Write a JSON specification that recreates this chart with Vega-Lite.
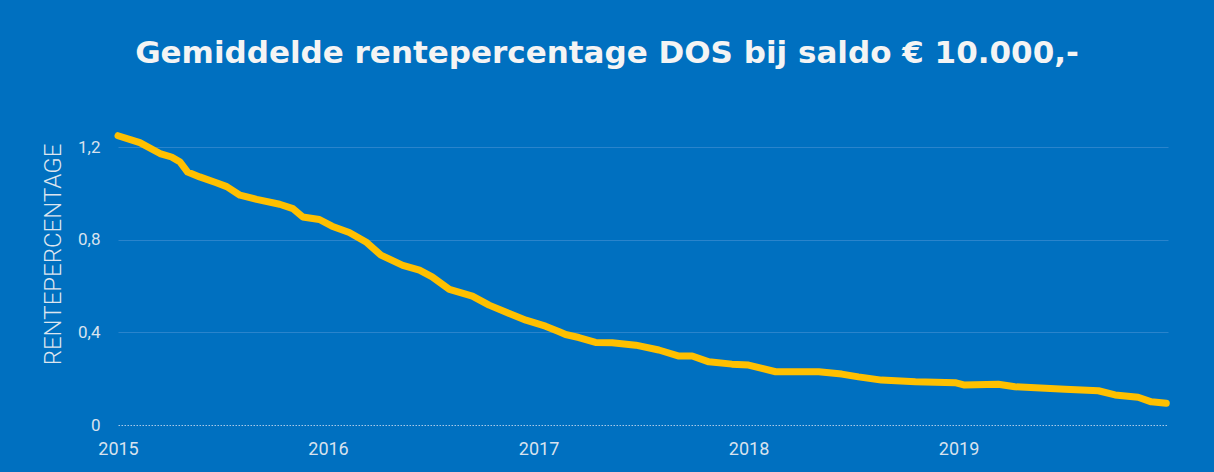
{
  "$schema": "https://vega.github.io/schema/vega-lite/v6.json",
  "width": 1050,
  "height": 324,
  "autosize": "none",
  "padding": {"left": 118, "top": 101, "right": 46, "bottom": 47},
  "background": "#0070c0",
  "title": {
    "text": "Gemiddelde rentepercentage DOS bij saldo € 10.000,-",
    "font": "DejaVu Sans",
    "fontSize": 31,
    "fontWeight": "bold",
    "color": "#f4f4f4",
    "anchor": "middle",
    "baseline": "alphabetic",
    "offset": 39,
    "dx": -36,
    "dy": 32
  },
  "config": {
    "view": {"stroke": null},
    "axis": {"labelFont": "Roboto", "titleFont": "Roboto"}
  },
  "data": {
    "values": [
      {"datum": "2015-01-01", "rente": 1.25},
      {"datum": "2015-02-08", "rente": 1.22},
      {"datum": "2015-03-15", "rente": 1.173},
      {"datum": "2015-04-04", "rente": 1.158},
      {"datum": "2015-04-19", "rente": 1.136},
      {"datum": "2015-05-02", "rente": 1.093},
      {"datum": "2015-05-23", "rente": 1.072},
      {"datum": "2015-06-21", "rente": 1.047},
      {"datum": "2015-07-09", "rente": 1.03},
      {"datum": "2015-08-01", "rente": 0.993},
      {"datum": "2015-08-30", "rente": 0.975},
      {"datum": "2015-10-09", "rente": 0.954},
      {"datum": "2015-11-01", "rente": 0.935},
      {"datum": "2015-11-18", "rente": 0.899},
      {"datum": "2015-12-17", "rente": 0.888},
      {"datum": "2016-01-08", "rente": 0.859},
      {"datum": "2016-02-07", "rente": 0.832},
      {"datum": "2016-03-07", "rente": 0.791},
      {"datum": "2016-04-02", "rente": 0.734},
      {"datum": "2016-05-10", "rente": 0.69},
      {"datum": "2016-06-08", "rente": 0.669},
      {"datum": "2016-06-30", "rente": 0.64},
      {"datum": "2016-07-30", "rente": 0.586},
      {"datum": "2016-09-08", "rente": 0.557},
      {"datum": "2016-10-07", "rente": 0.518},
      {"datum": "2016-11-11", "rente": 0.482},
      {"datum": "2016-12-10", "rente": 0.453},
      {"datum": "2017-01-13", "rente": 0.427},
      {"datum": "2017-02-06", "rente": 0.403},
      {"datum": "2017-02-17", "rente": 0.391},
      {"datum": "2017-03-12", "rente": 0.378},
      {"datum": "2017-04-10", "rente": 0.357},
      {"datum": "2017-05-09", "rente": 0.355},
      {"datum": "2017-06-19", "rente": 0.345},
      {"datum": "2017-07-29", "rente": 0.324},
      {"datum": "2017-09-02", "rente": 0.298},
      {"datum": "2017-09-25", "rente": 0.298},
      {"datum": "2017-10-24", "rente": 0.273},
      {"datum": "2017-12-03", "rente": 0.263},
      {"datum": "2018-01-01", "rente": 0.259},
      {"datum": "2018-02-17", "rente": 0.23},
      {"datum": "2018-03-29", "rente": 0.23},
      {"datum": "2018-05-03", "rente": 0.23},
      {"datum": "2018-06-12", "rente": 0.22},
      {"datum": "2018-07-11", "rente": 0.208},
      {"datum": "2018-08-20", "rente": 0.194},
      {"datum": "2018-10-18", "rente": 0.187},
      {"datum": "2018-12-26", "rente": 0.183},
      {"datum": "2019-01-10", "rente": 0.173},
      {"datum": "2019-03-11", "rente": 0.176},
      {"datum": "2019-04-09", "rente": 0.165},
      {"datum": "2019-07-05", "rente": 0.154},
      {"datum": "2019-09-01", "rente": 0.148},
      {"datum": "2019-09-30", "rente": 0.13},
      {"datum": "2019-11-09", "rente": 0.12},
      {"datum": "2019-12-02", "rente": 0.1},
      {"datum": "2019-12-28", "rente": 0.094}
    ]
  },
  "mark": {"type": "line", "color": "#ffc000", "strokeWidth": 7, "strokeCap": "round", "strokeJoin": "round"},
  "encoding": {
    "x": {
      "field": "datum",
      "type": "temporal",
      "scale": {"domain": ["2015-01-01", "2019-12-31"]},
      "axis": {
        "title": null,
        "domain": false,
        "ticks": false,
        "grid": false,
        "tickCount": {"interval": "year", "step": 1},
        "format": "%Y",
        "labelFontSize": 18,
        "labelColor": "#d8e2ee",
        "labelPadding": 15,
        "labelFlush": false
      }
    },
    "y": {
      "field": "rente",
      "type": "quantitative",
      "scale": {"domain": [0, 1.4], "nice": false},
      "axis": {
        "title": "RENTEPERCENTAGE",
        "titleFontSize": 24,
        "titleFontWeight": 300,
        "titleColor": "#dde5ef",
        "titleX": -65,
        "titleY": 153,
        "titleAlign": "center",
        "titleBaseline": "middle",
        "titleAngle": -90,
        "values": [0, 0.4, 0.8, 1.2],
        "labelExpr": "replace(format(datum.value, '~g'), '.', ',')",
        "labelFontSize": 17,
        "labelColor": "#d8e2ee",
        "labelPadding": 18,
        "domain": false,
        "ticks": false,
        "gridColor": {"condition": {"test": "datum.value === 0", "value": "#a9c9e8"}, "value": "#2a84cc"},
        "gridDash": {"condition": {"test": "datum.value === 0", "value": [1.5, 1.5]}, "value": []},
        "gridWidth": 1
      }
    }
  }
}
